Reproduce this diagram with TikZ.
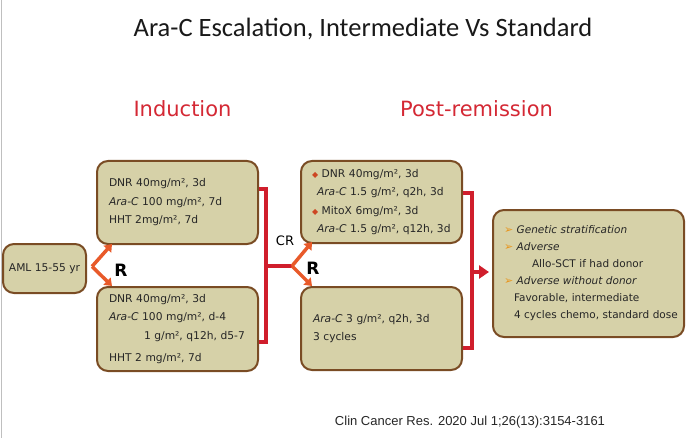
\documentclass[tikz,border=0pt]{standalone}
\usepackage{fontspec}
\setmainfont{DejaVu Sans}
\newfontfamily\titlefont{Carlito}
\newfontfamily\citefont{Liberation Sans}
\usetikzlibrary{arrows.meta,calc}

\definecolor{corCaixa}{RGB}{214,209,168}
\definecolor{corBorda}{RGB}{122,76,36}
\definecolor{corChave}{RGB}{208,30,44}
\definecolor{corSeta}{RGB}{232,90,42}
\definecolor{corFase}{RGB}{212,40,52}
\definecolor{corBala}{RGB}{232,150,30}
\definecolor{corLosango}{RGB}{205,70,35}

\tikzset{
  caixa/.style={draw=corBorda, line width=2pt, fill=corCaixa, rounded corners=11pt,
    align=left, inner xsep=12pt, inner ysep=0pt, text=black!85,
    font=\fontsize{10.7}{18.5}\selectfont},
  fase/.style={anchor=base, text=corFase, font=\fontsize{21}{21}\selectfont},
  chave/.style={draw=corChave, line width=4pt},
  garfo/.style={draw=corSeta, line width=3.5pt, -{Triangle[length=7pt,width=10pt]}},
  rotulo/.style={font=\fontsize{13}{13}\selectfont},
}
\newcommand{\bala}{{\color{corBala}\fontsize{11}{11}\selectfont ➢}}
\newcommand{\losango}{{\color{corLosango}\fontsize{8}{8}\selectfont ◆}}

\begin{document}
\begin{tikzpicture}[x=1pt,y=-1pt,thick]
		\useasboundingbox (0,0) rectangle (700,438);
		\draw[black!25, line width=1pt] (1,0) -- (1,438);

		% titulos
			\node[anchor=base, text=black!90, font=\titlefont\fontsize{26.5}{26.5}\selectfont] (titulo) at (363,37) {Ara-C Escalation, Intermediate Vs Standard};
			\node[fase] (inducao) at (182.5,117) {Induction};
			\node[fase] (posrem) at (476.5,117) {Post-remission};

		% caixas
			\node[caixa, align=center, inner xsep=0pt, minimum width=83pt, minimum height=49pt] (aml) at (44.5,268.5) {AML 15-55 yr};
			\node[caixa, text width=137pt, minimum height=83pt] (indA) at (177.5,202.5)
				{DNR 40mg/m², 3d\\ \textit{Ara-C} 100 mg/m², 7d\\ HHT 2mg/m², 7d};
			\node[caixa, text width=137pt, minimum height=84pt] (indB) at (177.5,329)
				{DNR 40mg/m², 3d\\ \textit{Ara-C} 100 mg/m², d-4\\ \hspace*{35pt}1 g/m², q12h, d5-7\\[4pt] HHT 2 mg/m², 7d};
			\node[caixa, text width=139pt, inner xsep=11pt, minimum height=82pt] (posA) at (381.5,202)
				{\losango\ DNR 40mg/m², 3d\\ \hspace*{5pt}\textit{Ara-C} 1.5 g/m², q2h, 3d\\ \losango\ MitoX 6mg/m², 3d\\ \hspace*{5pt}\textit{Ara-C} 1.5 g/m², q12h, 3d};
			\node[caixa, text width=137pt, minimum height=83pt, font=\fontsize{10.7}{18}\selectfont] (posB) at (381.5,328.5)
				{\textit{Ara-C} 3 g/m², q2h, 3d\\ 3 cycles};
			\node[caixa, text width=183pt, inner xsep=4pt, minimum height=127pt, font=\fontsize{10.5}{17}\selectfont] (fim) at (588.5,273.5)
				{\hspace*{7pt}\bala\ \textit{Genetic stratification}\\
				 \hspace*{7pt}\bala\ \textit{Adverse}\\
				 \hspace*{35pt}Allo-SCT if had donor\\
				 \hspace*{7pt}\bala\ \textit{Adverse without donor}\\
				 \hspace*{17pt}Favorable, intermediate\\
				 \hspace*{17pt}4 cycles chemo, standard dose};

		% ligacoes
			\coordinate (rA) at ($(aml.east)+(5,-2)$);
			\draw[garfo] (rA) -- ($(indA.south west)+(16,-1)$);
			\draw[garfo] (rA) -- ($(indB.north west)+(16,0)$);
			\node[rotulo, font=\bfseries\fontsize{17}{17}\selectfont] (rotR1) at (121,270) {R};

			\coordinate (jA) at (266,266);
			\coordinate (rB) at (292,266);
			\draw[chave] ($(indA.east)+(0,-13)$) -| (jA) |- ($(indB.east)+(0,13)$);
			\draw[chave] (jA) -- (rB);
			\draw[garfo] (rB) -- ($(posA.south west)+(12,-2)$);
			\draw[garfo] (rB) -- ($(posB.north west)+(12,0)$);
			\node[rotulo] (rotCR) at (285,241) {CR};
			\node[rotulo, font=\bfseries\fontsize{17}{17}\selectfont] (rotR2) at (313,268) {R};

			\coordinate (jB) at (472,272);
			\draw[chave] ($(posA.east)+(0,-9)$) -| (jB) |- ($(posB.east)+(0,19.5)$);
			\draw[chave, -{Triangle[length=10pt,width=13pt]}, shorten >=3pt] (jB) -- (fim.west |- jB);

		% referencia
			\node[anchor=base, text=black!85, font=\citefont\fontsize{13}{13}\selectfont] (ref) at (470,425) {Clin Cancer Res. 2020 Jul 1;26(13):3154-3161};
\end{tikzpicture}
\end{document}
